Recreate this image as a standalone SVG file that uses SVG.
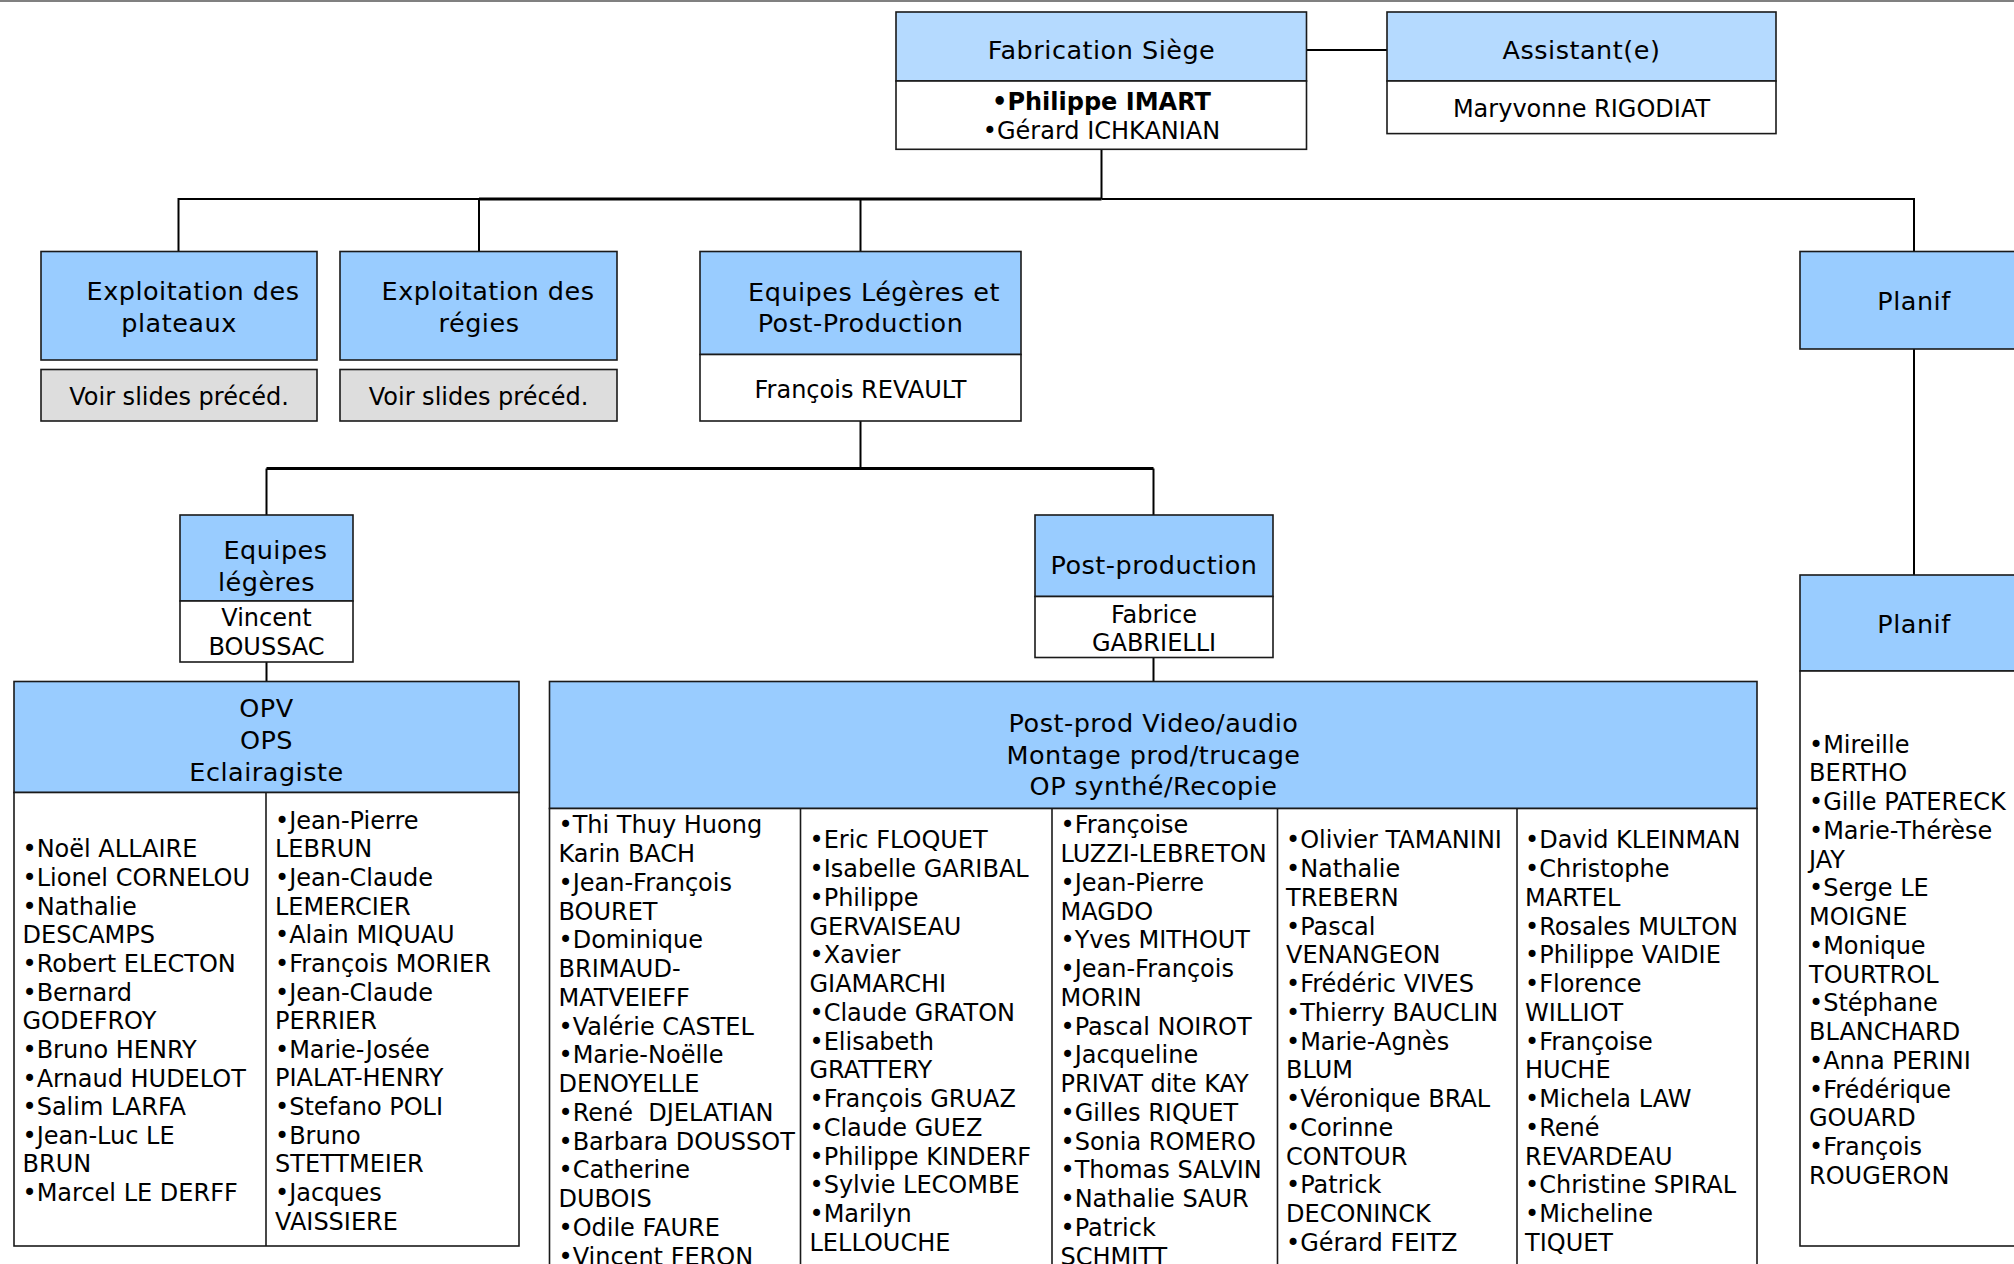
<svg xmlns="http://www.w3.org/2000/svg" width="2014" height="1264" viewBox="0 0 2014 1264">
<style>
.hd{fill:#99CCFF;stroke:#1a1a1a;stroke-width:1.6}
.hdl{fill:#B5DAFF;stroke:#1a1a1a;stroke-width:1.6}
.bd{fill:#FFFFFF;stroke:#1a1a1a;stroke-width:1.6}
.gr{fill:#DDDDDD;stroke:#1a1a1a;stroke-width:1.6}
.ht{font-family:"DejaVu Sans",Verdana,sans-serif;font-size:25.5px;letter-spacing:0.5px;fill:#000;text-anchor:middle}
.bt{font-family:"DejaVu Sans",Verdana,sans-serif;font-size:24px;fill:#000;text-anchor:middle}
.lt{font-family:"DejaVu Sans",Verdana,sans-serif;font-size:24px;fill:#000}
.b{font-weight:bold}
.cn{stroke:#000;stroke-width:2;fill:none}
.ck{stroke:#000;stroke-width:3;fill:none}
</style>
<rect width="2014" height="1264" fill="#FFFFFF"/>
<line x1="0" y1="1" x2="2014" y2="1" stroke="#808080" stroke-width="2"/>

<g id="connectors">
  <line class="cn" x1="1306.5" y1="50" x2="1387" y2="50"/>
  <line class="cn" x1="1101.5" y1="149" x2="1101.5" y2="199"/>
  <line class="cn" x1="178.5" y1="199" x2="479" y2="199"/>
  <line class="ck" x1="479" y1="199" x2="1101.5" y2="199"/>
  <line class="cn" x1="1101.5" y1="199" x2="1914" y2="199"/>
  <line class="cn" x1="178.5" y1="198" x2="178.5" y2="251.5"/>
  <line class="cn" x1="479" y1="198" x2="479" y2="251.5"/>
  <line class="cn" x1="860.5" y1="198" x2="860.5" y2="251.5"/>
  <line class="cn" x1="1914" y1="198" x2="1914" y2="251.5"/>
  <line class="cn" x1="1914" y1="349" x2="1914" y2="575"/>
  <line class="cn" x1="860.5" y1="421" x2="860.5" y2="468.5"/>
  <line class="ck" x1="266.5" y1="468.5" x2="1153.5" y2="468.5"/>
  <line class="cn" x1="266.5" y1="468.5" x2="266.5" y2="515"/>
  <line class="cn" x1="1153.5" y1="468.5" x2="1153.5" y2="515"/>
  <line class="cn" x1="266.5" y1="662" x2="266.5" y2="681.5"/>
  <line class="cn" x1="1153.5" y1="657.5" x2="1153.5" y2="681.5"/>
</g>

<g id="n-fabrication">
  <rect class="hdl" x="896" y="12" width="410.5" height="69"/>
  <rect class="bd" x="896" y="81" width="410.5" height="68.3"/>
  <text class="ht" x="1101.5" y="59">Fabrication Siège</text>
  <text class="bt b" x="1101.5" y="110">•Philippe IMART</text>
  <text class="bt" x="1101.5" y="139">•Gérard ICHKANIAN</text>
</g>

<g id="n-assistant">
  <rect class="hdl" x="1387" y="12" width="389" height="69"/>
  <rect class="bd" x="1387" y="81" width="389" height="52.6"/>
  <text class="ht" x="1581.5" y="59">Assistant(e)</text>
  <text class="bt" x="1581.5" y="116.5">Maryvonne RIGODIAT</text>
</g>

<g id="n-plateaux">
  <rect class="hd" x="41" y="251.5" width="276" height="108.5"/>
  <rect class="gr" x="41" y="369.5" width="276" height="51.5"/>
  <text class="ht" x="193" y="300">Exploitation des</text>
  <text class="ht" x="179" y="331.5">plateaux</text>
  <text class="bt" x="179" y="405">Voir slides précéd.</text>
</g>

<g id="n-regies">
  <rect class="hd" x="340" y="251.5" width="277" height="108.5"/>
  <rect class="gr" x="340" y="369.5" width="277" height="51.5"/>
  <text class="ht" x="488" y="300">Exploitation des</text>
  <text class="ht" x="479" y="331.5">régies</text>
  <text class="bt" x="478.5" y="405">Voir slides précéd.</text>
</g>

<g id="n-equipes-legeres-post">
  <rect class="hd" x="700" y="251.5" width="321" height="103"/>
  <rect class="bd" x="700" y="354.5" width="321" height="66.5"/>
  <text class="ht" x="874" y="300.5">Equipes Légères et</text>
  <text class="ht" x="860.5" y="332">Post-Production</text>
  <text class="bt" x="860.5" y="398">François REVAULT</text>
</g>

<g id="n-planif-1">
  <rect class="hd" x="1800" y="251.5" width="227" height="97.5"/>
  <text class="ht" x="1914" y="310">Planif</text>
</g>

<g id="n-planif-2">
  <rect class="hd" x="1800" y="575" width="227" height="96"/>
  <rect class="bd" x="1800" y="671" width="227" height="575"/>
  <text class="ht" x="1914" y="633">Planif</text>
  <text class="lt" y="752.7"><tspan x="1809">•Mireille</tspan><tspan x="1809" dy="28.75">BERTHO</tspan><tspan x="1809" dy="28.75">•Gille PATERECK</tspan><tspan x="1809" dy="28.75">•Marie-Thérèse</tspan><tspan x="1809" dy="28.75">JAY</tspan><tspan x="1809" dy="28.75">•Serge LE</tspan><tspan x="1809" dy="28.75">MOIGNE</tspan><tspan x="1809" dy="28.75">•Monique</tspan><tspan x="1809" dy="28.75">TOURTROL</tspan><tspan x="1809" dy="28.75">•Stéphane</tspan><tspan x="1809" dy="28.75">BLANCHARD</tspan><tspan x="1809" dy="28.75">•Anna PERINI</tspan><tspan x="1809" dy="28.75">•Frédérique</tspan><tspan x="1809" dy="28.75">GOUARD</tspan><tspan x="1809" dy="28.75">•François</tspan><tspan x="1809" dy="28.75">ROUGERON</tspan></text>
</g>

<g id="n-equipes-legeres">
  <rect class="hd" x="180" y="515" width="173" height="86"/>
  <rect class="bd" x="180" y="601" width="173" height="61"/>
  <text class="ht" x="275.5" y="558.5">Equipes</text>
  <text class="ht" x="266.5" y="590.5">légères</text>
  <text class="bt" x="266.5" y="626">Vincent</text>
  <text class="bt" x="266.5" y="654.5">BOUSSAC</text>
</g>

<g id="n-post-production">
  <rect class="hd" x="1035" y="515" width="238" height="81.5"/>
  <rect class="bd" x="1035" y="596.5" width="238" height="61"/>
  <text class="ht" x="1154" y="574">Post-production</text>
  <text class="bt" x="1154" y="622.5">Fabrice</text>
  <text class="bt" x="1154" y="650.5">GABRIELLI</text>
</g>

<g id="n-opv">
  <rect class="hd" x="14" y="681.5" width="505" height="111"/>
  <rect class="bd" x="14" y="792.5" width="505" height="453.5"/>
  <line x1="266" y1="792.5" x2="266" y2="1246" stroke="#1a1a1a" stroke-width="1.6"/>
  <text class="ht" x="266.5" y="716.5">OPV</text>
  <text class="ht" x="266.5" y="748.5">OPS</text>
  <text class="ht" x="266.5" y="780.5">Eclairagiste</text>
  <text class="lt" y="857.3"><tspan x="22.5">•Noël ALLAIRE</tspan><tspan x="22.5" dy="28.65">•Lionel CORNELOU</tspan><tspan x="22.5" dy="28.65">•Nathalie</tspan><tspan x="22.5" dy="28.65">DESCAMPS</tspan><tspan x="22.5" dy="28.65">•Robert ELECTON</tspan><tspan x="22.5" dy="28.65">•Bernard</tspan><tspan x="22.5" dy="28.65">GODEFROY</tspan><tspan x="22.5" dy="28.65">•Bruno HENRY</tspan><tspan x="22.5" dy="28.65">•Arnaud HUDELOT</tspan><tspan x="22.5" dy="28.65">•Salim LARFA</tspan><tspan x="22.5" dy="28.65">•Jean-Luc LE</tspan><tspan x="22.5" dy="28.65">BRUN</tspan><tspan x="22.5" dy="28.65">•Marcel LE DERFF</tspan></text>
  <text class="lt" y="828.6"><tspan x="275">•Jean-Pierre</tspan><tspan x="275" dy="28.65">LEBRUN</tspan><tspan x="275" dy="28.65">•Jean-Claude</tspan><tspan x="275" dy="28.65">LEMERCIER</tspan><tspan x="275" dy="28.65">•Alain MIQUAU</tspan><tspan x="275" dy="28.65">•François MORIER</tspan><tspan x="275" dy="28.65">•Jean-Claude</tspan><tspan x="275" dy="28.65">PERRIER</tspan><tspan x="275" dy="28.65">•Marie-Josée</tspan><tspan x="275" dy="28.65">PIALAT-HENRY</tspan><tspan x="275" dy="28.65">•Stefano POLI</tspan><tspan x="275" dy="28.65">•Bruno</tspan><tspan x="275" dy="28.65">STETTMEIER</tspan><tspan x="275" dy="28.65">•Jacques</tspan><tspan x="275" dy="28.65">VAISSIERE</tspan></text>
</g>

<g id="n-postprod-video">
  <rect class="hd" x="549.5" y="681.5" width="1207.5" height="127"/>
  <rect class="bd" x="549.5" y="808.5" width="1207.5" height="500"/>
  <g stroke="#1a1a1a" stroke-width="1.6">
    <line x1="800.5" y1="808.5" x2="800.5" y2="1308"/>
    <line x1="1052" y1="808.5" x2="1052" y2="1308"/>
    <line x1="1277.5" y1="808.5" x2="1277.5" y2="1308"/>
    <line x1="1517" y1="808.5" x2="1517" y2="1308"/>
  </g>
  <text class="ht" x="1153.5" y="732">Post-prod Video/audio</text>
  <text class="ht" x="1153.5" y="763.5">Montage prod/trucage</text>
  <text class="ht" x="1153.5" y="795">OP synthé/Recopie</text>
  <text class="lt" y="833.3"><tspan x="558.5">•Thi Thuy Huong</tspan><tspan x="558.5" dy="28.75">Karin BACH</tspan><tspan x="558.5" dy="28.75">•Jean-François</tspan><tspan x="558.5" dy="28.75">BOURET</tspan><tspan x="558.5" dy="28.75">•Dominique</tspan><tspan x="558.5" dy="28.75">BRIMAUD-</tspan><tspan x="558.5" dy="28.75">MATVEIEFF</tspan><tspan x="558.5" dy="28.75">•Valérie CASTEL</tspan><tspan x="558.5" dy="28.75">•Marie-Noëlle</tspan><tspan x="558.5" dy="28.75">DENOYELLE</tspan><tspan x="558.5" dy="28.75">•René&#160; DJELATIAN</tspan><tspan x="558.5" dy="28.75">•Barbara DOUSSOT</tspan><tspan x="558.5" dy="28.75">•Catherine</tspan><tspan x="558.5" dy="28.75">DUBOIS</tspan><tspan x="558.5" dy="28.75">•Odile FAURE</tspan><tspan x="558.5" dy="28.75">•Vincent FERON</tspan></text>
  <text class="lt" y="848.3"><tspan x="809.5">•Eric FLOQUET</tspan><tspan x="809.5" dy="28.75">•Isabelle GARIBAL</tspan><tspan x="809.5" dy="28.75">•Philippe</tspan><tspan x="809.5" dy="28.75">GERVAISEAU</tspan><tspan x="809.5" dy="28.75">•Xavier</tspan><tspan x="809.5" dy="28.75">GIAMARCHI</tspan><tspan x="809.5" dy="28.75">•Claude GRATON</tspan><tspan x="809.5" dy="28.75">•Elisabeth</tspan><tspan x="809.5" dy="28.75">GRATTERY</tspan><tspan x="809.5" dy="28.75">•François GRUAZ</tspan><tspan x="809.5" dy="28.75">•Claude GUEZ</tspan><tspan x="809.5" dy="28.75">•Philippe KINDERF</tspan><tspan x="809.5" dy="28.75">•Sylvie LECOMBE</tspan><tspan x="809.5" dy="28.75">•Marilyn</tspan><tspan x="809.5" dy="28.75">LELLOUCHE</tspan></text>
  <text class="lt" y="833.3"><tspan x="1060.5">•Françoise</tspan><tspan x="1060.5" dy="28.75">LUZZI-LEBRETON</tspan><tspan x="1060.5" dy="28.75">•Jean-Pierre</tspan><tspan x="1060.5" dy="28.75">MAGDO</tspan><tspan x="1060.5" dy="28.75">•Yves MITHOUT</tspan><tspan x="1060.5" dy="28.75">•Jean-François</tspan><tspan x="1060.5" dy="28.75">MORIN</tspan><tspan x="1060.5" dy="28.75">•Pascal NOIROT</tspan><tspan x="1060.5" dy="28.75">•Jacqueline</tspan><tspan x="1060.5" dy="28.75">PRIVAT dite KAY</tspan><tspan x="1060.5" dy="28.75">•Gilles RIQUET</tspan><tspan x="1060.5" dy="28.75">•Sonia ROMERO</tspan><tspan x="1060.5" dy="28.75">•Thomas SALVIN</tspan><tspan x="1060.5" dy="28.75">•Nathalie SAUR</tspan><tspan x="1060.5" dy="28.75">•Patrick</tspan><tspan x="1060.5" dy="28.75">SCHMITT</tspan></text>
  <text class="lt" y="848.3"><tspan x="1286">•Olivier TAMANINI</tspan><tspan x="1286" dy="28.75">•Nathalie</tspan><tspan x="1286" dy="28.75">TREBERN</tspan><tspan x="1286" dy="28.75">•Pascal</tspan><tspan x="1286" dy="28.75">VENANGEON</tspan><tspan x="1286" dy="28.75">•Frédéric VIVES</tspan><tspan x="1286" dy="28.75">•Thierry BAUCLIN</tspan><tspan x="1286" dy="28.75">•Marie-Agnès</tspan><tspan x="1286" dy="28.75">BLUM</tspan><tspan x="1286" dy="28.75">•Véronique BRAL</tspan><tspan x="1286" dy="28.75">•Corinne</tspan><tspan x="1286" dy="28.75">CONTOUR</tspan><tspan x="1286" dy="28.75">•Patrick</tspan><tspan x="1286" dy="28.75">DECONINCK</tspan><tspan x="1286" dy="28.75">•Gérard FEITZ</tspan></text>
  <text class="lt" y="848.3"><tspan x="1525">•David KLEINMAN</tspan><tspan x="1525" dy="28.75">•Christophe</tspan><tspan x="1525" dy="28.75">MARTEL</tspan><tspan x="1525" dy="28.75">•Rosales MULTON</tspan><tspan x="1525" dy="28.75">•Philippe VAIDIE</tspan><tspan x="1525" dy="28.75">•Florence</tspan><tspan x="1525" dy="28.75">WILLIOT</tspan><tspan x="1525" dy="28.75">•Françoise</tspan><tspan x="1525" dy="28.75">HUCHE</tspan><tspan x="1525" dy="28.75">•Michela LAW</tspan><tspan x="1525" dy="28.75">•René</tspan><tspan x="1525" dy="28.75">REVARDEAU</tspan><tspan x="1525" dy="28.75">•Christine SPIRAL</tspan><tspan x="1525" dy="28.75">•Micheline</tspan><tspan x="1525" dy="28.75">TIQUET</tspan></text>
</g>
</svg>
